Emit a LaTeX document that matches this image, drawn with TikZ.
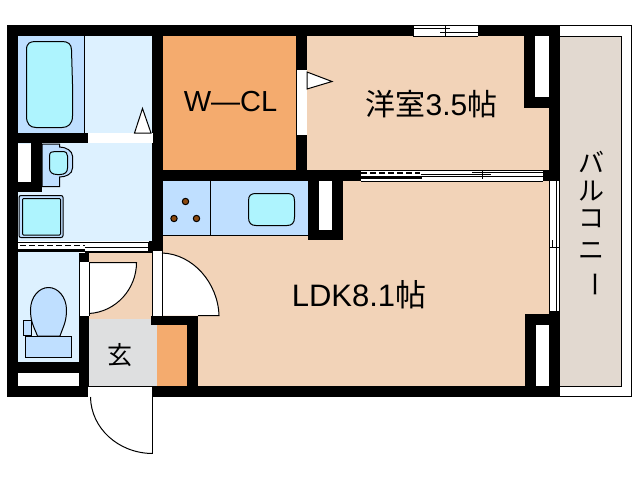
\documentclass[tikz,border=0pt]{standalone}
\usepackage{fontspec}
\setmainfont{Liberation Sans}
\newfontfamily\cjkfont{Noto Sans CJK JP}
\definecolor{room}{HTML}{F2D3B8}
\definecolor{closet}{HTML}{F4AB6E}
\definecolor{wetfloor}{HTML}{DDF1FF}
\definecolor{fixture}{HTML}{BFDFFF}
\definecolor{basin}{HTML}{AEF4FE}
\definecolor{genkan}{HTML}{DEDFE0}
\definecolor{balcony}{HTML}{E2D9D0}
\definecolor{burner}{HTML}{8B4A10}
\tikzset{
  wall/.style={fill=black,draw=none},
  slot/.style={fill=white,draw=none},
  thin line/.style={draw=black,line width=1pt},
  fixt/.style={draw=black,line width=1pt,fill=fixture},
  bowl/.style={draw=black,line width=1pt,fill=basin},
  door leaf/.style={draw=black,line width=1pt,fill=white},
  track/.style={draw=black,line width=1pt},
  thick track/.style={draw=black,line width=2.4pt},
  dash track/.style={draw=black,line width=1.2pt,dash pattern=on 6pt off 3pt},
  roomtext/.style={inner sep=0pt,text=black},
}
\begin{document}
\begin{tikzpicture}[x=1pt,y=-1pt]
\useasboundingbox (0,0) rectangle (638,480);
\fill[white] (0,0) rectangle (638,480);
% balcony
\fill[balcony] (560,36) rectangle (621.5,386);
\draw[thin line] (560,36) -- (621.5,36) -- (621.5,386) -- (560,386);
\draw[thin line] (560,25.5) -- (631.5,25.5) -- (631.5,396.5) -- (560,396.5);
% rooms
\fill[room] (163,181) rectangle (549,386);
\fill[room] (307,36) rectangle (549,170);
\fill[room] (89,252) rectangle (152,319);
\fill[closet] (163,36) rectangle (296,170);
\fill[closet] (157,325) rectangle (187,386);
\fill[genkan] (89,319) rectangle (156.5,386);
\fill[wetfloor] (18,36) rectangle (152,241);
\fill[wetfloor] (18,252) rectangle (79,362);
% fixtures floor
\fill[fixture] (18,36) rectangle (84,133);
\draw[thin line] (84.5,36) -- (84.5,133);
\fill[fixture] (163,181) rectangle (308,235);
\draw[thin line] (163,235.5) -- (308,235.5);
\draw[thin line] (210.5,181) -- (210.5,235);
% walls
\fill[wall] (7,25) rectangle (413,36);
\fill[wall] (478,25) rectangle (560,36);
\fill[wall] (7,25) rectangle (18,397);
\fill[wall] (549,25) rectangle (560,397);
\fill[wall] (7,386) rectangle (560,397);
\fill[wall] (18,133) rectangle (88,143);
\fill[wall] (152,36) rectangle (163,252);
\fill[wall] (296,36) rectangle (307,170);
\fill[wall] (163,170) rectangle (361,181);
\fill[wall] (308,181) rectangle (343,240);
\fill[wall] (31,143) rectangle (42,192);
\fill[wall] (18,182) rectangle (42,192);
\fill[wall] (18,362) rectangle (79,373);
\fill[wall] (79,253) rectangle (89,386);
\fill[wall] (151,316) rectangle (198,325);
\fill[wall] (187,316) rectangle (198,386);
\fill[wall] (524,36) rectangle (549,108);
\fill[wall] (525,314) rectangle (549,386);
\fill[wall] (543,170) rectangle (560,181);
\fill[wall] (149,241) rectangle (163,252);
% white slots and doors in the walls
\fill[slot] (535,36) rectangle (549,97);
\fill[slot] (536,325) rectangle (549,386);
\fill[slot] (319,181) rectangle (332,230);
\fill[slot] (18,144) rectangle (31,182);
\fill[slot] (18,373) rectangle (79,386);
\fill[slot] (88,133) rectangle (152.5,143);
\fill[slot] (296.5,70) rectangle (307,135);
\fill[slot] (79.5,262) rectangle (89,316);
\fill[slot] (152.5,251) rectangle (162,316);
\fill[slot] (88,387) rectangle (153,396.5);
\fill[slot] (549.5,181) rectangle (560,311);
\fill[slot] (413,25) rectangle (478,36);
\fill[slot] (361,170) rectangle (543,181);
\fill[slot] (20,243) rectangle (148,251);
% top window
\draw[track] (413,25.5) -- (478,25.5);
\draw[track] (413,36) -- (478,36);
\draw[track] (413.5,25) -- (413.5,36);
\draw[track] (414,28.5) -- (450,28.5);
\draw[track] (440,32.5) -- (478,32.5);
\draw[track] (445.5,25.5) -- (445.5,36);
% sliding door LDK / yoshitsu
\draw[track] (361,170.5) -- (543,170.5);
\draw[track] (361,181) -- (543,181);
\draw[dash track] (361,173) -- (420,173);
\draw[track] (472,172.3) -- (543,172.3);
\draw[track] (421,174.5) -- (491,174.5);
\draw[thick track] (361,177.6) -- (422,177.6);
\draw[track] (422,176.8) -- (543,176.8);
\draw[track] (482.5,170.5) -- (482.5,179);
% sliding door to balcony
\draw[track] (549.5,181) -- (549.5,311);
\draw[track] (556,181) -- (556,311);
\draw[track] (559.5,181) -- (559.5,311);
\draw[track] (549.5,247) -- (559.5,247);
\draw[track] (552.5,240) -- (552.5,247);
\draw[track] (556.5,247) -- (556.5,254);
% sliding door wash / toilet
\fill[black] (18,241.5) rectangle (90,243);
\draw[track] (90,242.5) -- (148,242.5);
\draw[dash track] (20,245.5) -- (85,245.5);
\draw[track] (85,247.5) -- (148,247.5);
\fill[black] (18,248.5) rectangle (85,252);
\fill[black] (85,251) rectangle (152,252.5);
\draw[track] (148.5,241.5) -- (148.5,252);
% bath
\draw[bowl] (26.5,50) .. controls (26.5,43) and (30,41.5) .. (36,41.5)
  -- (62,41.5) .. controls (68,41.5) and (71.5,44) .. (71.5,50)
  -- (72.5,84) -- (72.5,116) .. controls (72.5,124) and (68,127.5) .. (62,127.5)
  -- (36,127.5) .. controls (30,127.5) and (26.5,124) .. (26.5,116) -- cycle;
% door stopper triangles
\draw[door leaf] (134.5,133) -- (142.5,108.5) -- (151,133) -- cycle;
\draw[door leaf] (307,72) -- (332,81.5) -- (307,89) -- cycle;
% wash basin
\draw[fixt] (42,144) -- (59.5,144) -- (59.5,147) .. controls (66,147) and (72.5,151) .. (72.5,156)
  -- (72.5,168) .. controls (72.5,174) and (66,177) .. (59.5,177) -- (59.5,186.5) -- (42,186.5) -- cycle;
\draw[bowl] (49.5,156) .. controls (49.5,152) and (52,151.5) .. (55,151.5) -- (62,151.5)
  .. controls (66,151.5) and (67.5,153) .. (67.5,156) -- (67.5,168)
  .. controls (67.5,172) and (65,174.5) .. (60,174.5) -- (57,174.5)
  .. controls (52,174.5) and (49.5,172) .. (49.5,168) -- cycle;
% washing pan
\draw[fixt,rounded corners=2pt] (19,195.5) rectangle (63,237.5);
\draw[bowl,rounded corners=1pt] (22.5,198.5) rectangle (60.5,235);
% toilet
\draw[fixt] (37.5,336) .. controls (34,327) and (30.5,322) .. (30.5,310)
  .. controls (30.5,297) and (39,287.5) .. (48.5,287.5)
  .. controls (58,287.5) and (66.5,297) .. (66.5,310)
  .. controls (66.5,322) and (63,327) .. (60,336) -- cycle;
\draw[fixt] (25.5,336.5) rectangle (71.5,357.5);
\draw[fixt] (23.5,320.5) rectangle (31,335.5);
% kitchen
\draw[bowl] (248.5,201) .. controls (248.5,195) and (251,193.5) .. (256,193.5)
  -- (287,193.5) .. controls (292,193.5) and (294.5,195) .. (294.5,201)
  -- (294.5,217) .. controls (294.5,223) and (292,225.5) .. (287,225.5)
  -- (256,225.5) .. controls (251,225.5) and (248.5,223) .. (248.5,217) -- cycle;
\foreach \bx/\by in {185.5/201.5,174/218.5,196.5/218.5}
  \draw[draw=black,line width=1pt,fill=burner] (\bx,\by) circle (3.2pt);
% swing doors
\draw[door leaf] (89,262.5) -- (136.5,262.5) .. controls (136.5,289) and (116,312) .. (89,313.5);
\draw[draw=none,fill=white] (162,253) .. controls (193,254) and (218,283) .. (219,315.5) -- (162,315.5) -- cycle;
\draw[thin line] (162,253) .. controls (193,254) and (218,283) .. (219,315.5) -- (198,315.5);
% slot frames
\draw[thin line] (152.5,251) -- (152.5,316);
\draw[thin line] (162,251) -- (162,316);
\draw[thin line] (79.5,262) -- (79.5,316);
\draw[thin line] (89,262) -- (89,316);
% entrance door
\draw[thin line] (152.5,386) -- (152.5,454);
\draw[thin line] (90.5,397) .. controls (91,428) and (118,453) .. (152,453.5);
% labels
\node[roomtext] (wcl) at (230.5,101.5) {\fontsize{29}{29}\selectfont W—CL};
\node[roomtext] (yo) at (431.5,104.5) {\fontsize{30}{30}\selectfont{\cjkfont 洋室}3.5{\cjkfont 帖}};
\node[roomtext] (ldk) at (359,295) {\fontsize{31}{31}\selectfont LDK8.1{\cjkfont 帖}};
\node[roomtext] (gen) at (120,355) {\fontsize{25}{25}\selectfont\cjkfont 玄};
\node[roomtext] (b1) at (591,162) {\fontsize{26}{26}\selectfont\cjkfont バ};
\node[roomtext] (b2) at (591,191) {\fontsize{26}{26}\selectfont\cjkfont ル};
\node[roomtext] (b3) at (591,219) {\fontsize{26}{26}\selectfont\cjkfont コ};
\node[roomtext] (b4) at (591,251) {\fontsize{26}{26}\selectfont\cjkfont ニ};
\node[roomtext,rotate=-90] (b5) at (591,284) {\fontsize{26}{26}\selectfont\cjkfont ー};
\end{tikzpicture}
\end{document}
